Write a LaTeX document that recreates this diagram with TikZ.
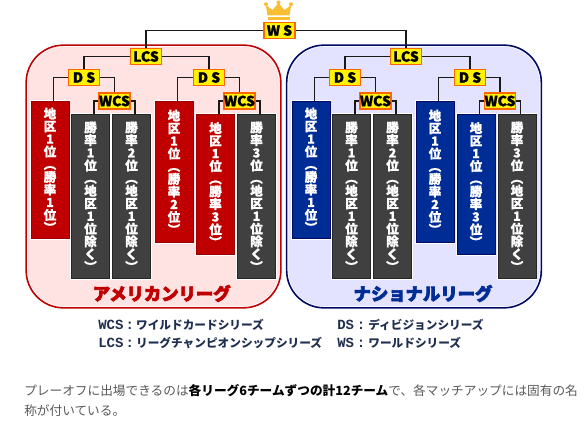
\documentclass[tikz,border=0pt]{standalone}
\usepackage{fontspec}
\setmainfont{Noto Sans CJK JP}
\newfontfamily\cjk{Noto Sans CJK JP}
\newfontfamily\hvyfont[BoldFeatures={FakeBold=1.2}]{Noto Sans CJK JP}
\newfontfamily\ttlfont[BoldFeatures={FakeBold=4}]{Noto Sans CJK JP}
\newfontfamily\lgdlat{Liberation Mono}
\usetikzlibrary{positioning}
\definecolor{redlg}{HTML}{C00000}
\definecolor{bluelg}{HTML}{002C96}
\definecolor{navylg}{HTML}{000A66}
\definecolor{pinkbg}{HTML}{FFE3E3}
\definecolor{lilacbg}{HTML}{E3E3FF}
\definecolor{slate}{HTML}{1F2F4F}
\definecolor{gold}{HTML}{F9BE32}
\newcommand{\seedtxt}[1]{地\\区\\1\\位\\︵\\勝\\率\\#1\\位\\︶}
\newcommand{\wildtxt}[1]{勝\\率\\#1\\位\\︵\\地\\区\\1\\位\\除\\く\\︶}
\newcommand{\lgdkey}[2]{{\lgdlat\fontsize{10.5}{11}\selectfont #1\kern#2:\kern#2}}
\begin{document}
\begin{tikzpicture}[
        x=0.75pt, y=-0.75pt,
        panel/.style={rounded corners=28pt, minimum width=191pt, minimum height=197pt},
        round/.style={draw=#1, line width=1.2pt, fill=white, panel},
        rnd/.style={draw=orange!80!red, fill=yellow, line width=1.1pt, font=\hvyfont\bfseries\fontsize{10.5}{11}\selectfont,
            text=black, inner sep=0pt, minimum width=23pt, minimum height=12pt},
        col/.style={align=center, text=white, inner sep=0pt, minimum width=28.5pt,
            font=\hvyfont\bfseries\fontsize{9.4}{9.5}\selectfont, line width=0.7pt,
            preaction={draw=white, line width=2.2pt}},
        redcol/.style={col, draw=redlg!80!black, fill=redlg},
        bluecol/.style={col, draw=navylg, fill=bluelg},
        grycol/.style={col, draw=black!85, fill=black!75, minimum height=123pt},
        lnk/.style={draw=black!90, line width=1.1pt},
        lgd/.style={anchor=west, inner sep=0pt, text=slate, font=\cjk\bfseries\fontsize{8.75}{9}\selectfont},
        ttl/.style={inner sep=0pt, font=\ttlfont\bfseries\fontsize{13}{13}\selectfont},
        body/.style={anchor=west, inner sep=0pt, text=black!65, font=\cjk\fontsize{9.5}{10}\selectfont}
    ]
    \useasboundingbox (0,0) rectangle (586,424);
    % leagues
    \node[round=redlg] (alout) at (153.5,176.5) {};
    \node[panel, fill=pinkbg, minimum width=188.5pt, minimum height=194.5pt, rounded corners=27pt] (al) at (153.5,176.5) {};
    \node[round=navylg] (nlout) at (414,176.5) {};
    \node[panel, fill=lilacbg, minimum width=188.5pt, minimum height=194.5pt, rounded corners=27pt] (nl) at (414,176.5) {};
    % crown
    \fill[gold] (267.5,15.5) -- (265.8,5) -- (272.5,10) -- (278.5,3) -- (284.5,10) -- (291.2,5) -- (289.5,15.5) -- cycle;
    \fill[gold] (268,17) rectangle (289.5,20);
    \fill[gold] (266,4.2) circle (2) (278.5,2.5) circle (2) (291,4.2) circle (2);
    % bracket boxes
    \node[rnd] (ws) at (279.5,30.5) {W S};
    \node[rnd] (lcsA) at (146,56.5) {LCS};
    \node[rnd] (dsA) at (84,77.5) {D S};
    \node[rnd] (dsB) at (209,77.5) {D S};
    \node[rnd] (wcsA) at (114.5,101) {WCS};
    \node[rnd] (wcsB) at (239.5,101) {WCS};
    \node[rnd] (lcsN) at (406,56.5) {LCS};
    \node[rnd] (dsC) at (345,77.5) {D S};
    \node[rnd] (dsD) at (470,77.5) {D S};
    \node[rnd] (wcsC) at (375.5,101) {WCS};
    \node[rnd] (wcsD) at (500,101) {WCS};
    % american league teams
    \node[redcol, anchor=north, minimum height=102.75pt] (tmA) at (50,101) {\seedtxt{1}};
    \node[grycol, anchor=north] (tmB) at (90.5,114) {\wildtxt{1}};
    \node[grycol, anchor=north] (tmC) at (131.5,114) {\wildtxt{2}};
    \node[redcol, anchor=north, minimum height=105.75pt] (tmD) at (174,101) {\seedtxt{2}};
    \node[redcol, anchor=north, minimum height=105pt] (tmE) at (215.5,114) {\seedtxt{3}};
    \node[grycol, anchor=north] (tmF) at (256.5,114) {\wildtxt{3}};
    % national league teams
    \node[bluecol, anchor=north, minimum height=102.75pt] (tmG) at (311,101) {\seedtxt{1}};
    \node[grycol, anchor=north] (tmH) at (351.5,114) {\wildtxt{1}};
    \node[grycol, anchor=north] (tmI) at (392.5,114) {\wildtxt{2}};
    \node[bluecol, anchor=north, minimum height=105.75pt] (tmJ) at (435,101) {\seedtxt{2}};
    \node[bluecol, anchor=north, minimum height=105pt] (tmK) at (476,114) {\seedtxt{3}};
    \node[grycol, anchor=north] (tmL) at (517,114) {\wildtxt{3}};
    % connectors
    \draw[lnk] (ws.west) -| (lcsA.north);
    \draw[lnk] (ws.east) -| (lcsN.north);
    \draw[lnk] (lcsA.west) -| (dsA.north);
    \draw[lnk] (lcsA.east) -| (dsB.north);
    \draw[lnk] (lcsN.west) -| (dsC.north);
    \draw[lnk] (lcsN.east) -| (dsD.north);
    \draw[lnk] (dsA.west) -| ([xshift=2.6pt]tmA.north);
    \draw[lnk] (dsA.east) -| (wcsA.north);
    \draw[lnk] (dsB.west) -| ([xshift=2.6pt]tmD.north);
    \draw[lnk] (dsB.east) -| (wcsB.north);
    \draw[lnk] (dsC.west) -| ([xshift=2.6pt]tmG.north);
    \draw[lnk] (dsC.east) -| (wcsC.north);
    \draw[lnk] (dsD.west) -| ([xshift=2.6pt]tmJ.north);
    \draw[lnk] (dsD.east) -| (wcsD.north);
    \draw[lnk] (wcsA.west) -| ([xshift=2.6pt]tmB.north);
    \draw[lnk] (wcsA.east) -| ([xshift=2.6pt]tmC.north);
    \draw[lnk] (wcsB.west) -| ([xshift=2.6pt]tmE.north);
    \draw[lnk] (wcsB.east) -| ([xshift=2.6pt]tmF.north);
    \draw[lnk] (wcsC.west) -| ([xshift=2.6pt]tmH.north);
    \draw[lnk] (wcsC.east) -| ([xshift=2.6pt]tmI.north);
    \draw[lnk] (wcsD.west) -| ([xshift=2.6pt]tmK.north);
    \draw[lnk] (wcsD.east) -| ([xshift=2.6pt]tmL.north);
    % league names
    \node[ttl, text=redlg] (alname) at (161.7,293.5) {アメリカンリーグ};
    \node[ttl, text=bluelg] (nlname) at (423,293.5) {ナショナルリーグ};
    % legend
    \node[lgd] (lgdA) at (98,325) {\lgdkey{WCS}{1.6pt}ワイルドカードシリーズ};
    \node[lgd] (lgdB) at (98,343) {\lgdkey{LCS}{1.6pt}リーグチャンピオンシップシリーズ};
    \node[lgd] (lgdC) at (337,325) {\lgdkey{DS}{2.2pt}ディビジョンシリーズ};
    \node[lgd] (lgdD) at (337,343) {\lgdkey{WS}{2.2pt}ワールドシリーズ};
    % text below
    \node[body] (txtA) at (24,391) {プレーオフに出場できるのは{\bfseries\color{black}各リーグ6チームずつの計12チーム}で、各マッチアップには固有の名};
    \node[body] (txtB) at (24,411) {称が付いている。};
\end{tikzpicture}
\end{document}
